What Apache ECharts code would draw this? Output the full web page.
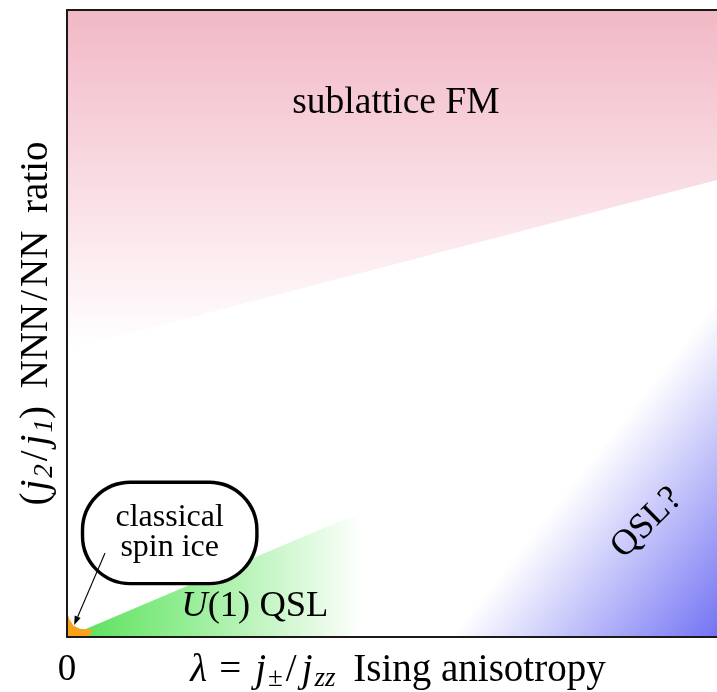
<!DOCTYPE html>
<html><head><meta charset="utf-8">
<script src="https://cdn.jsdelivr.net/npm/echarts@6/dist/echarts.min.js"></script>
<style>html,body{margin:0;padding:0;background:#fff}#c{width:717px;height:692px}</style>
</head><body><div id="c"></div>
<script>
const FONT = 'Liberation Serif';

// Phase boundaries (data units: x = lambda, y = j2/j1, both 0..1)
const fmBoundary = [[0, 0.458], [1, 0.729]];
const u1Boundary = [[0, 0], [0.455, 0.2]];
const qslBoundary = [[0.59, 0], [1, 0.537]];
const spinIceRegion = [[0, 0], [0, 0.04], [0.004, 0.028], [0.010, 0.018], [0.020, 0.013], [0.041, 0.011], [0.032, 0]];
const spinIceArrow = [[0.0585, 0.134], [0.011, 0.019]];
const xTickLabels = ['0'];
const labelNames = ['sublattice FM', 'U(1) QSL', 'QSL?', 'classical spin ice'];
const labelPositions = [[0.506, 0.852], [0.289, 0.048], [0.892, 0.182], [0.158, 0.166]];

const chart = echarts.init(document.getElementById('c'), null, {renderer: 'canvas'});
const LG = echarts.graphic.LinearGradient;
const INK = '#000';

const labelStyles = {
  'sublattice FM': {fontSize: 37.5},
  'U(1) QSL': {fontSize: 36.5, formatter: '{i|U}(1) QSL', rich: {i: {fontStyle: 'italic', fontFamily: FONT, fontSize: 36.5, color: INK}}},
  'QSL?': {fontSize: 36, rotate: 45},
  'classical spin ice': {
    fontSize: 32, formatter: 'classical\nspin ice', lineHeight: 30,
    backgroundColor: '#fff', borderColor: '#000', borderWidth: 3.4, borderRadius: 46,
    width: 171, height: 98, align: 'center', verticalAlign: 'middle', padding: 0
  }
};

const labelData = labelNames.map((n, i) => ({
  name: n, value: labelPositions[i],
  label: Object.assign({show: true, position: 'inside', color: INK, opacity: 1, fontFamily: FONT, formatter: '{b}'}, labelStyles[n])
}));

const LH = 48;
const mathRich = (fs) => {
  const base = {fontFamily: FONT, fontSize: fs, lineHeight: LH, color: INK};
  const sub = Object.assign({}, base, {fontSize: Math.round(fs * 0.7), padding: [15, 0, 0, 0]});
  return {
    m: Object.assign({}, base, {fontStyle: 'italic'}),
    ml: Object.assign({}, base, {fontStyle: 'italic', padding: [0, 0, 0, 12]}),
    mj: Object.assign({}, base, {fontStyle: 'italic', padding: [0, 2, 0, 2]}),
    r: base,
    sl: Object.assign({}, base, {padding: [0, 3, 0, 3]}),
    eq: Object.assign({}, base, {padding: [0, 12, 0, 12]}),
    sp: Object.assign({}, base, {padding: [0, 4, 0, 4]}),
    s: Object.assign({}, sub, {fontStyle: 'italic'}),
    su: sub,
    t: base
  };
};

// Blue wedge gradient: white along the boundary, deepening towards the lower-right corner
const qslGradient = new LG(0, 1, 0.613, 1.385, [
  {offset: 0, color: '#ffffff'}, {offset: 1, color: '#7373f4'}
]);

const option = {
  animation: false,
  backgroundColor: '#fff',
  grid: {left: 67, right: 0, top: 10, bottom: 55, containLabel: false, outerBoundsMode: 'none'},
  xAxis: [{
    type: 'value', min: 0, max: 1, interval: 1, z: 10,
    axisLine: {show: true, lineStyle: {color: '#1a1a1a', width: 2}},
    axisTick: {show: false}, splitLine: {show: false},
    axisLabel: {show: true, margin: 15, fontFamily: FONT, fontSize: 37, color: INK,
      showMaxLabel: false, formatter: (v) => (v === 0 ? xTickLabels[0] : '')},
    name: '{ml|λ}{eq|=}{mj|j}{su|±}{sl|/}{mj|j}{s|zz}{sp| }{t|Ising anisotropy}',
    nameLocation: 'middle', nameGap: 10, nameMoveOverlap: false,
    nameTextStyle: {fontFamily: FONT, fontSize: 39, color: INK, rich: mathRich(39)}
  }, {
    type: 'value', min: 0, max: 1, position: 'top', z: 10,
    axisLine: {show: true, onZero: false, lineStyle: {color: '#1a1a1a', width: 2}},
    axisTick: {show: false}, splitLine: {show: false}, axisLabel: {show: false}
  }],
  yAxis: {
    type: 'value', min: 0, max: 1, z: 10,
    axisLine: {show: true, lineStyle: {color: '#1a1a1a', width: 2}},
    axisTick: {show: false}, splitLine: {show: false}, axisLabel: {show: false},
    name: '{r|(}{mj|j}{s|2}{sl|/}{mj|j}{s|1}{r|)}{sp| }{t|NNN}{sl|/}{t|NN}{sp| }{t|ratio}',
    nameLocation: 'middle', nameGap: 6, nameRotate: 90, nameMoveOverlap: false,
    nameTextStyle: {fontFamily: FONT, fontSize: 39, color: INK, rich: mathRich(39)}
  },
  series: [
    {
      type: 'line', data: fmBoundary, symbol: 'none', silent: true, z: 1,
      lineStyle: {width: 0},
      areaStyle: {origin: 'end', opacity: 1,
        color: new LG(0, 0, 0, 1, [{offset: 0, color: '#f2b8c6'}, {offset: 1, color: '#ffffff'}])}
    },
    {
      type: 'line', data: u1Boundary, symbol: 'none', silent: true, z: 1,
      lineStyle: {width: 0},
      areaStyle: {origin: 'start', opacity: 1,
        color: new LG(0, 0, 1, 0, [{offset: 0, color: '#55e055'}, {offset: 0.35, color: '#8cec8c'}, {offset: 1, color: '#ffffff'}])}
    },
    {
      type: 'line', data: qslBoundary, symbol: 'none', silent: true, z: 1,
      lineStyle: {width: 0},
      areaStyle: {origin: 'start', opacity: 1, color: qslGradient}
    },
    {
      type: 'custom', coordinateSystem: 'cartesian2d', silent: true, z: 3,
      data: [spinIceRegion[0]],
      renderItem: (params, api) => ({
        type: 'polygon',
        shape: {points: spinIceRegion.map((p) => api.coord(p))},
        style: {fill: '#fba21a'}
      })
    },
    {
      type: 'custom', coordinateSystem: 'cartesian2d', silent: true, z: 7,
      data: [spinIceArrow[0]],
      renderItem: (params, api) => {
        const a = api.coord(spinIceArrow[0]);
        const b = api.coord(spinIceArrow[1]);
        const dx = b[0] - a[0], dy = b[1] - a[1];
        const L = Math.hypot(dx, dy), ux = dx / L, uy = dy / L;
        const head = 9, half = 3.2;
        const base = [b[0] - ux * head, b[1] - uy * head];
        return {
          type: 'group',
          children: [
            {type: 'line', shape: {x1: a[0], y1: a[1], x2: base[0], y2: base[1]}, style: {stroke: '#000', lineWidth: 1.1}},
            {type: 'polygon', shape: {points: [b, [base[0] - uy * half, base[1] + ux * half], [base[0] + uy * half, base[1] - ux * half]]}, style: {fill: '#000'}}
          ]
        };
      }
    },
    {
      type: 'scatter', symbolSize: 0, silent: true, z: 6,
      itemStyle: {opacity: 1},
      data: labelData
    }
  ]
};
chart.setOption(option);
</script></body></html>
